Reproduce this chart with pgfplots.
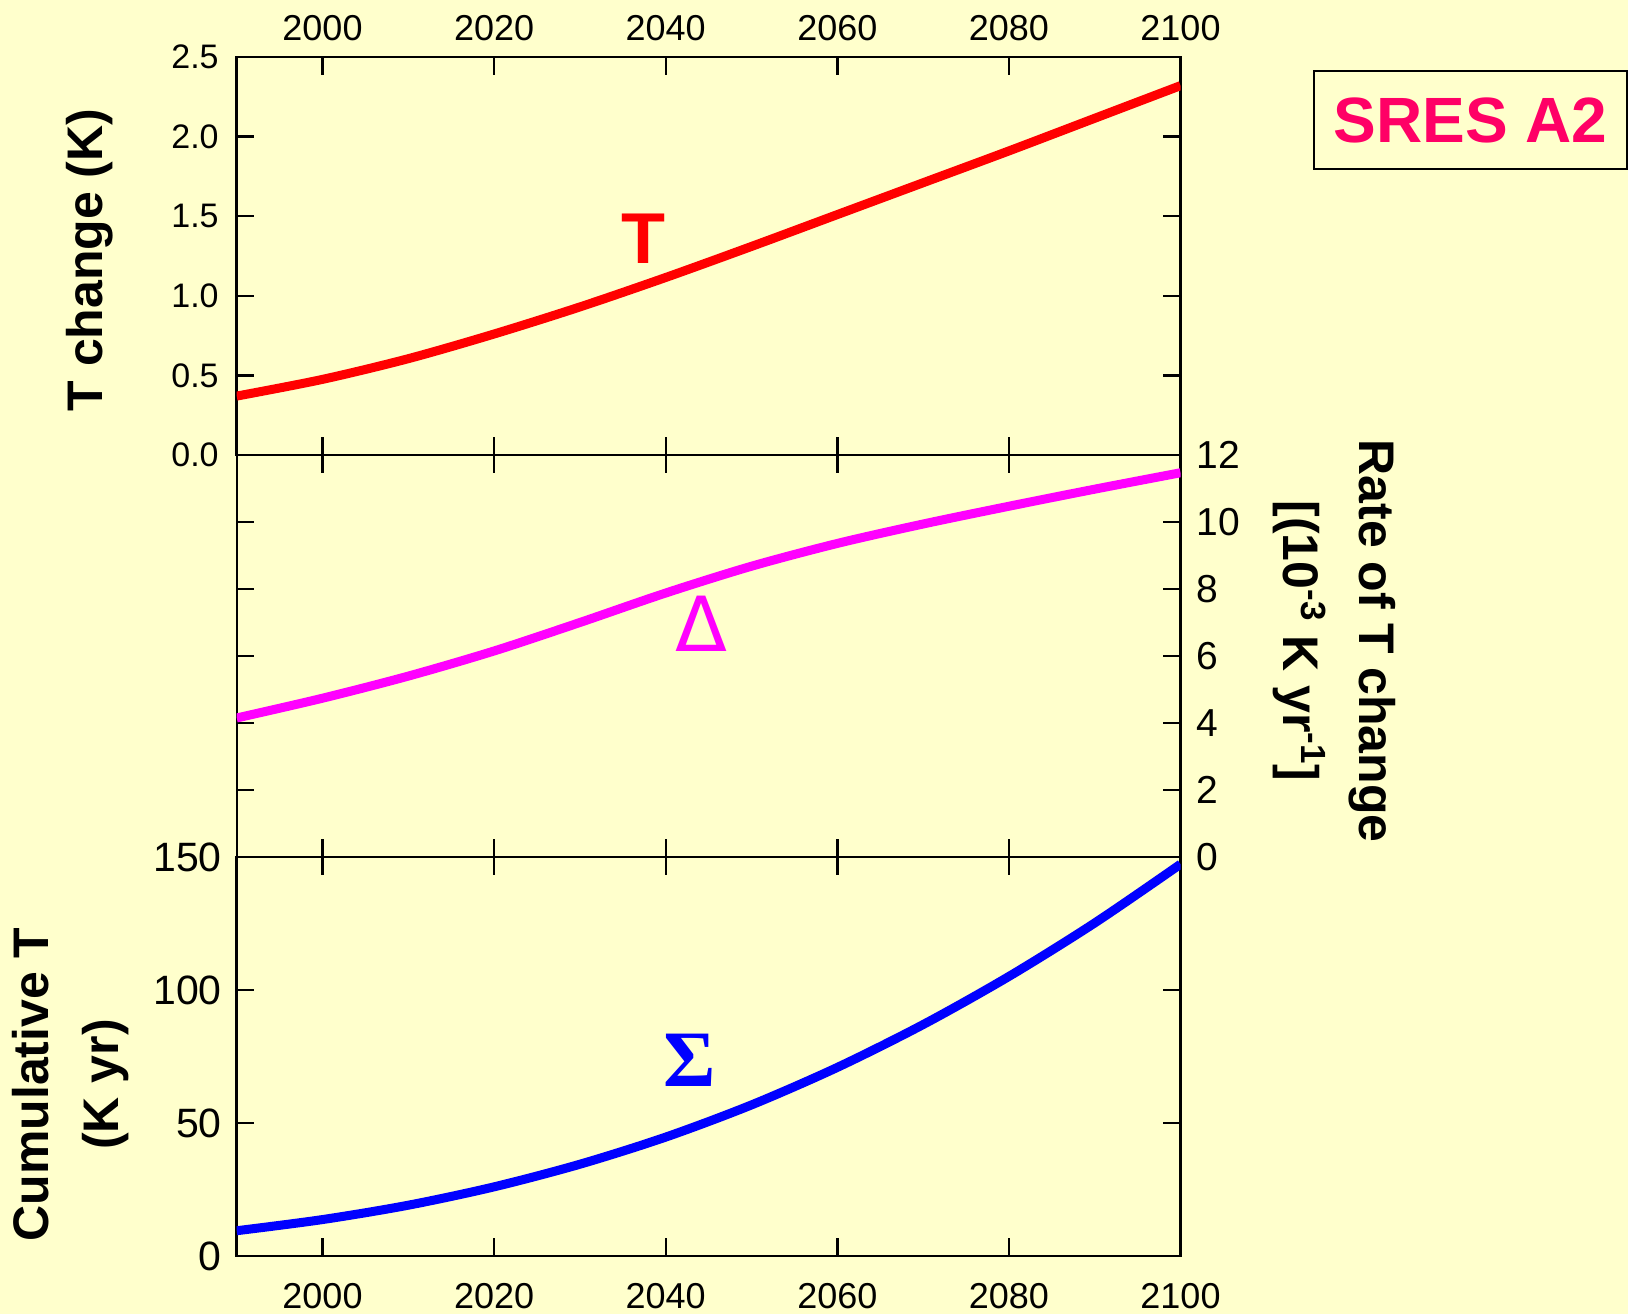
\documentclass[border=0pt]{standalone}
\usepackage{pgfplots}
\pgfplotsset{compat=1.18}
\usepackage{fontspec}
\setmainfont{Liberation Sans}
\newfontfamily\seriffont{Liberation Serif}
\newfontfamily\dejavu{DejaVu Sans}
\definecolor{bg}{RGB}{255,255,204}
\definecolor{sres}{RGB}{255,0,102}
\definecolor{mag}{RGB}{255,0,255}
\definecolor{rd}{RGB}{255,0,0}
\definecolor{bl}{RGB}{0,0,255}

\pgfplotsset{
  panel/.style={
    scale only axis, width=471.9pt,
    xmin=1990, xmax=2100,
    xtick={2000,2020,2040,2060,2080,2100},
    axis line style={line width=1.2pt},
    every tick/.style={black, line width=1.2pt},
    major tick length=8.8pt,
    tick align=inside,
    xtick pos=both, ytick pos=both,
    /pgf/number format/assume math mode=true,
    /pgf/number format/1000 sep={},
    xticklabel style={font=\fontsize{18}{18}\selectfont},
    axis background/.style={fill=bg},
  }
}

\begin{document}
\begin{tikzpicture}
\path[fill=bg, use as bounding box] (0,0) rectangle (814pt,657pt);

% ---------- top panel: T change ----------
\begin{axis}[panel,
  at={(118.35pt,429.5pt)}, anchor=south west, height=199pt,
  ymin=0, ymax=2.5, ytick={0,0.5,1,1.5,2,2.5},
  xticklabel pos=right,
  xticklabel style={yshift=4.5pt},
  yticklabel pos=left,
  yticklabel style={font=\fontsize{17}{17}\selectfont, xshift=-5.5pt, /pgf/number format/fixed, /pgf/number format/fixed zerofill, /pgf/number format/precision=1},
  every axis y label/.style={at={(axis description cs:-0.1554,0.49)}, rotate=90, anchor=center,
     font=\fontsize{25}{30}\selectfont\bfseries},
  ylabel={T change (K)},
]
\addplot[rd, line width=4.5pt, smooth] coordinates {
 (1990,0.37) (2000,0.475) (2010,0.605) (2020,0.76) (2030,0.93) (2040,1.115)
 (2050,1.31) (2060,1.51) (2070,1.71) (2080,1.91) (2090,2.115) (2100,2.32)};
\node[rd, font=\fontsize{36}{36}\selectfont\bfseries] at (axis cs:2037.4,1.357) {T};
\end{axis}

% ---------- middle panel: rate ----------
\begin{axis}[panel,
  at={(118.35pt,228.5pt)}, anchor=south west, height=201pt,
  ymin=0, ymax=12, ytick={0,2,4,6,8,10,12},
  xticklabels={},
  yticklabel pos=right,
  yticklabel style={font=\fontsize{19.5}{19.5}\selectfont, xshift=4.5pt},
  every axis y label/.style={at={(axis description cs:1.163,0.537)}, rotate=-90, anchor=center, align=center,
     font=\fontsize{25}{38}\selectfont\bfseries},
  ylabel={Rate of T change\\ {[}(10\textsuperscript{-3} K yr\textsuperscript{-1}{]}},
]
\addplot[mag, line width=4.5pt, smooth] coordinates {
 (1990,4.15) (2000,4.74) (2010,5.40) (2020,6.15) (2030,7.0) (2040,7.88)
 (2050,8.68) (2060,9.36) (2070,9.94) (2080,10.47) (2090,10.98) (2100,11.47)};
\node[mag, font=\fontsize{38}{38}\selectfont\dejavu] at (axis cs:2044.2,6.95) {Δ};
\end{axis}

% ---------- bottom panel: cumulative ----------
\begin{axis}[panel,
  at={(118.35pt,29pt)}, anchor=south west, height=199.5pt,
  ymin=0, ymax=150, ytick={0,50,100,150},
  xticklabel pos=left,
  xticklabel style={yshift=-10pt},
  yticklabel pos=left,
  yticklabel style={font=\fontsize{20.5}{20.5}\selectfont, xshift=-4pt},
  every axis y label/.style={at={(axis description cs:-0.1756,0.43)}, rotate=90, anchor=center, align=center,
     font=\fontsize{25}{35}\selectfont\bfseries},
  ylabel={Cumulative T\\(K yr)},
]
\addplot[bl, line width=4.5pt, smooth] coordinates {
 (1990,9.5) (2000,13.7) (2010,19.1) (2020,26.0) (2030,34.5) (2040,44.7)
 (2050,56.8) (2060,70.9) (2070,87.0) (2080,105.1) (2090,125.2) (2100,147.3)};
\node[bl, font=\fontsize{40}{40}\selectfont\seriffont\bfseries] at (axis cs:2042.8,73.7) {Σ};
\end{axis}

% ---------- scenario box ----------
\draw[line width=0.85pt, fill=bg] (657pt,572.5pt) rectangle (813.4pt,621.5pt);
\node[sres, font=\fontsize{32}{32}\selectfont\bfseries] at (735.2pt,597pt) {SRES A2};
\end{tikzpicture}
\end{document}
